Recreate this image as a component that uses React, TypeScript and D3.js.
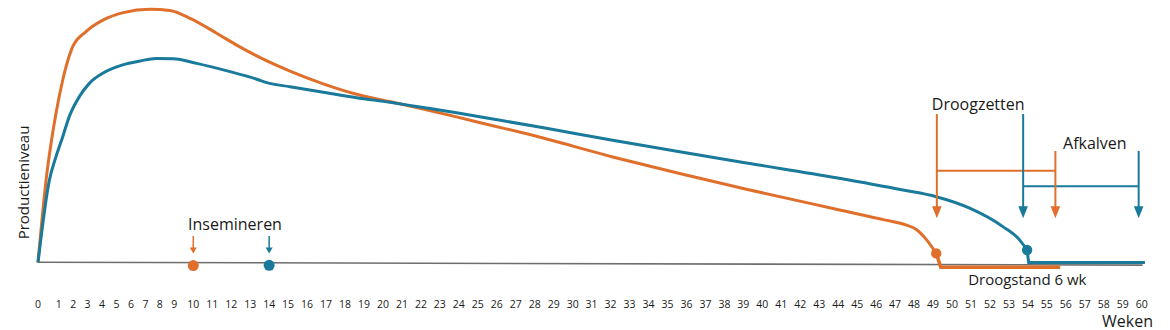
import React from "react";
import * as d3 from "d3";

// ---- Data ----
const weekTicks: number[] = d3.range(0, 61);

// Orange cow (high peak, short lactation): [week, production level]
const orangeWeeks = [0, 0.39, 0.87, 1.28, 1.51, 1.97, 2.89, 4.09, 5.47, 7.32, 8.7, 9.83, 11.23, 12.29, 13.69, 15.1, 16.85, 18.61, 20.36, 21.77, 23.88, 25.63, 27.74, 32.11, 35.64, 39.16, 43.9, 46.5, 47.6, 48.1, 48.64, 49.17];
const orangeValues = [0, 31.7, 57.4, 70.2, 75.3, 83.0, 88.8, 93.3, 96.1, 97.4, 96.9, 93.9, 88.2, 83.6, 78.2, 73.6, 68.7, 64.7, 61.9, 59.6, 56.0, 52.9, 49.2, 40.6, 34.2, 28.2, 20.5, 16.3, 14.4, 12.8, 8.9, 3.5];
const orangeTailWeeks = [49.17, 49.41, 55.7];
const orangeTailValues = [3.5, -1.8, -1.8];

// Blue cow (lower peak, persistent lactation)
const blueWeeks = [0, 0.55, 0.87, 1.28, 1.73, 2.43, 3.12, 4.05, 5.43, 6.63, 7.73, 8.93, 10.18, 11.94, 13.34, 13.87, 15.1, 16.85, 18.61, 20.36, 21.77, 23.88, 25.63, 28.62, 32.11, 35.64, 39.16, 43.9, 47.41, 49.17, 50.93, 52.68, 53.56, 53.96];
const blueValues = [0, 31.7, 40.7, 48.4, 56.1, 63.8, 68.9, 72.8, 76.0, 77.5, 78.5, 78.4, 76.6, 73.4, 70.5, 69.2, 67.6, 65.5, 63.4, 61.6, 60.0, 57.6, 55.4, 51.6, 47.0, 42.6, 38.3, 32.6, 27.9, 25.3, 20.9, 13.8, 8.7, 4.8];
const blueTailWeeks = [53.96, 54.04, 60.17];
const blueTailValues = [4.8, 0, 0];

// Events
const inseminationWeeks = { orange: 10, blue: 14 };
const inseminationValues = { orange: -1.2, blue: -1.1 };
const dryOffWeeks = { orange: 49.2, blue: 53.75 };
const calvingWeeks = { orange: 55.45, blue: 59.84 };
const dryDots = { orange: [49.17, 3.5], blue: [53.96, 4.8] };
const periodLevels = { orange: 35.3, blue: 29.3 };
const dryArrowTop = 57.1;
const calveArrowTop = 42.9;
const arrowTip = 17.0;
const insemArrowTop = 10.2;
const insemArrowTip = 3.5;

const ORANGE = "#DF6F2B";
const BLUE = "#1A7A9B";
const TEXT = "#1a1a1a";
const FONT = "'Open Sans', 'Noto Sans', sans-serif";

const zip = (a: number[], b: number[]) => a.map((w, i) => [w, b[i]] as [number, number]);

export default function App() {
  const W = 1170, H = 330;
  const x = d3.scaleLinear().domain([0, 1, 9, 60]).range([38, 58.7, 174.3, 1141.7]);
  const y = d3.scaleLinear().domain([0, 100]).range([262.5, 2.5]);

  const smooth = d3.line<[number, number]>().x(d => x(d[0])).y(d => y(d[1])).curve(d3.curveMonotoneX);
  const straight = d3.line<[number, number]>().x(d => x(d[0])).y(d => y(d[1]));

  const arrowHead = (w: number, tipV: number, hw: number, hh: number) => {
    const px = x(w), py = y(tipV);
    return `M${px - hw},${py - hh} L${px + hw},${py - hh} L${px},${py} Z`;
  };

  const VArrow = ({ w, top, tip, color, hw, hh, sw }: any) => (
    <g>
      <line x1={x(w)} x2={x(w)} y1={y(top)} y2={y(tip) - hh + 1} stroke={color} strokeWidth={sw} />
      <path d={arrowHead(w, tip, hw, hh)} fill={color} />
    </g>
  );

  return (
    <svg width={W} height={H} style={{ position: "absolute", left: 0, top: 0, display: "block", background: "#fff" }} fontFamily={FONT}>
      {/* baseline */}
      <line x1={x(0)} y1={y(0.1)} x2={x(60.05)} y2={y(-1)} stroke="#6e6e6e" strokeWidth={1.6} />

      {/* curves */}
      <path d={smooth(zip(orangeWeeks, orangeValues)) || ""} fill="none" stroke={ORANGE} strokeWidth={3} strokeLinejoin="round" />
      <path d={straight(zip(orangeTailWeeks, orangeTailValues)) || ""} fill="none" stroke={ORANGE} strokeWidth={3.5} />
      <path d={smooth(zip(blueWeeks, blueValues)) || ""} fill="none" stroke={BLUE} strokeWidth={3} strokeLinejoin="round" />
      <path d={straight(zip(blueTailWeeks, blueTailValues)) || ""} fill="none" stroke={BLUE} strokeWidth={3} />

      {/* dry-off dots */}
      <circle cx={x(dryDots.orange[0])} cy={y(dryDots.orange[1])} r={5.2} fill={ORANGE} />
      <circle cx={x(dryDots.blue[0])} cy={y(dryDots.blue[1])} r={5.2} fill={BLUE} />

      {/* insemination */}
      <circle cx={x(inseminationWeeks.orange)} cy={y(inseminationValues.orange)} r={5.5} fill={ORANGE} />
      <circle cx={x(inseminationWeeks.blue)} cy={y(inseminationValues.blue)} r={5.5} fill={BLUE} />
      <VArrow w={inseminationWeeks.orange} top={insemArrowTop} tip={insemArrowTip} color={ORANGE} hw={3.5} hh={6} sw={1.5} />
      <VArrow w={inseminationWeeks.blue} top={insemArrowTop} tip={insemArrowTip} color={BLUE} hw={3.5} hh={6} sw={1.5} />
      <text x={x(12.2)} y={y(12.5)} textAnchor="middle" fontSize={16} fill={TEXT}>Insemineren</text>

      {/* dry period brackets */}
      <line x1={x(dryOffWeeks.orange)} x2={x(calvingWeeks.orange)} y1={y(periodLevels.orange)} y2={y(periodLevels.orange)} stroke={ORANGE} strokeWidth={2} />
      <line x1={x(dryOffWeeks.blue)} x2={x(calvingWeeks.blue)} y1={y(periodLevels.blue)} y2={y(periodLevels.blue)} stroke={BLUE} strokeWidth={2} />
      <VArrow w={dryOffWeeks.orange} top={dryArrowTop} tip={arrowTip} color={ORANGE} hw={4.8} hh={12} sw={2} />
      <VArrow w={dryOffWeeks.blue} top={dryArrowTop} tip={arrowTip} color={BLUE} hw={4.8} hh={12} sw={2} />
      <VArrow w={calvingWeeks.orange} top={calveArrowTop} tip={arrowTip} color={ORANGE} hw={4.8} hh={12} sw={2} />
      <VArrow w={calvingWeeks.blue} top={calveArrowTop} tip={arrowTip} color={BLUE} hw={4.8} hh={12} sw={2} />
      <text x={x(51.38)} y={y(58.65)} textAnchor="middle" fontSize={16} fill={TEXT}>Droogzetten</text>
      <text x={x(57.53)} y={y(43.65)} textAnchor="middle" fontSize={16} fill={TEXT}>Afkalven</text>
      <text x={x(53.97)} y={y(-8.65)} textAnchor="middle" fontSize={15} fill={TEXT}>Droogstand 6 wk</text>

      {/* x tick labels */}
      {weekTicks.map(t => (
        <text key={t} x={x(t)} y={308.3} textAnchor="middle" fontSize={10.5} fill={TEXT}>{t}</text>
      ))}
      <text x={1153} y={326.5} textAnchor="end" fontSize={16} fill={TEXT}>Weken</text>
      <text transform="translate(29.3,182.5) rotate(-90)" textAnchor="middle" fontSize={15} fill={TEXT}>Productieniveau</text>
    </svg>
  );
}
